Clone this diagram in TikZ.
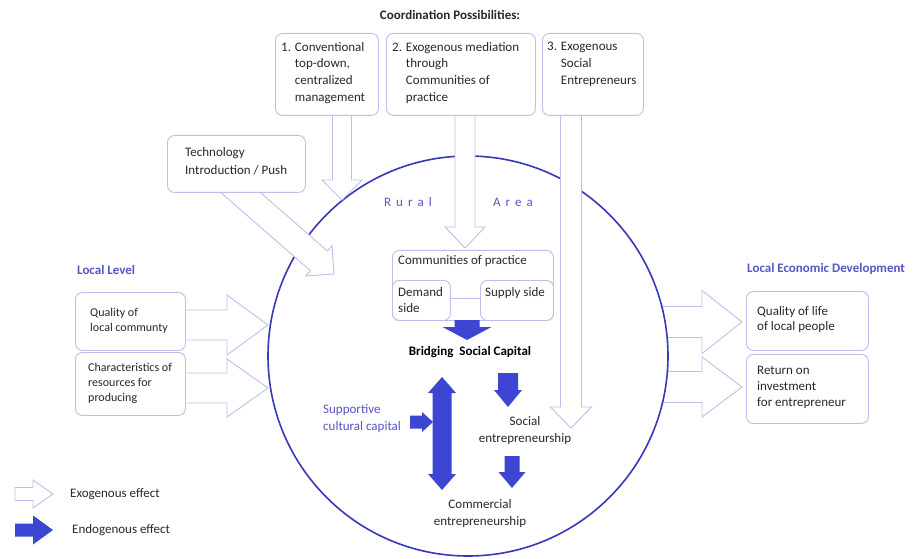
\documentclass[tikz,border=0pt]{standalone}
\usepackage{fontspec}
\setmainfont{Carlito}
\usetikzlibrary{calc}
\definecolor{circblue}{RGB}{55,55,185}
\definecolor{textblue}{RGB}{85,85,200}
\definecolor{endoblue}{RGB}{60,70,210}
\definecolor{lav}{RGB}{190,190,235}
\definecolor{txtgray}{RGB}{40,40,40}
\tikzset{
  exo/.style={draw=lav, line width=0.9pt, fill=white, line join=miter},
  endo/.style={fill=endoblue, draw=none},
  box/.style={draw=lav, line width=0.9pt, rounded corners=7pt, fill=white, inner sep=0pt, anchor=north west},
  txt/.style={inner sep=0pt, align=left, anchor=north west, text=txtgray, font=\fontsize{13}{16.7}\selectfont},
  smalltxt/.style={txt, font=\fontsize{12}{15}\selectfont},
  bluehead/.style={inner sep=0pt, anchor=west, text=textblue, font=\fontsize{13}{16}\selectfont\bfseries},
}
% block arrow: style, from, to, half shaft, half head, head length
\newcommand\blockarrow[6]{%
  \coordinate (ba-h) at ($(#3)!#6!(#2)$);
  \path[#1] ($(#2)!#4!90:(#3)$) -- ($(ba-h)!#4!-90:(#2)$) -- ($(ba-h)!#5!-90:(#2)$) -- (#3)
     -- ($(ba-h)!#5!90:(#2)$) -- ($(ba-h)!#4!90:(#2)$) -- ($(#2)!#4!-90:(#3)$) -- cycle;
}
% double block arrow
\newcommand\dblarrow[6]{%
  \coordinate (da1) at ($(#2)!#6!(#3)$);
  \coordinate (da2) at ($(#3)!#6!(#2)$);
  \path[#1] (#2) -- ($(da1)!#5!90:(#3)$) -- ($(da1)!#4!90:(#3)$) -- ($(da2)!#4!-90:(#2)$)
     -- ($(da2)!#5!-90:(#2)$) -- (#3) -- ($(da2)!#5!90:(#2)$) -- ($(da2)!#4!90:(#2)$)
     -- ($(da1)!#4!-90:(#3)$) -- ($(da1)!#5!-90:(#3)$) -- cycle;
}
\newcommand\ind{\hphantom{1. }}
\newcommand\spreadword[1]{#1}
\begin{document}
\begin{tikzpicture}[x=1pt,y=-1pt]
\useasboundingbox (0,0) rectangle (914,559);

% ---------- side arrows (behind circle) ----------
\coordinate (l1s) at (185,325); \coordinate (l1e) at (268,325);
\coordinate (l2s) at (185,388); \coordinate (l2e) at (268,388);
\blockarrow{exo}{l1s}{l1e}{15pt}{30pt}{41pt}
\blockarrow{exo}{l2s}{l2e}{15pt}{29pt}{41pt}
\coordinate (r1s) at (640,322); \coordinate (r1e) at (742,322);
\coordinate (r2s) at (640,387); \coordinate (r2e) at (742,387);
\blockarrow{exo}{r1s}{r1e}{15.5pt}{31.5pt}{40pt}
\blockarrow{exo}{r2s}{r2e}{15.5pt}{30pt}{40pt}

% ---------- circle ----------
\node[circle, draw=circblue, line width=1.6pt, fill=white, minimum size=400pt, inner sep=0pt] (area) at (468,356) {};

% ---------- top arrows ----------
\coordinate (t0s) at (228.7,182.2); \coordinate (t0e) at (334,274);
\blockarrow{exo}{t0s}{t0e}{13pt}{20pt}{20pt}
\coordinate (a1s) at (342,115); \coordinate (a1e) at (342,200);
\blockarrow{exo}{a1s}{a1e}{9.5pt}{20pt}{20pt}
\coordinate (a2s) at (465,115); \coordinate (a2e) at (465,248);
\blockarrow{exo}{a2s}{a2e}{10pt}{20pt}{21pt}
\coordinate (a3s) at (571,115); \coordinate (a3e) at (571,428);
\blockarrow{exo}{a3s}{a3e}{10.5pt}{20.5pt}{21pt}

% ---------- title ----------
\node[inner sep=0pt, text=txtgray, font=\fontsize{13}{16}\selectfont\bfseries] (title) at (450,15) {Coordination Possibilities:};

% ---------- top boxes ----------
\node[box, minimum width=103pt, minimum height=82pt] (b1) at (275,33) {};
\node[txt] (b1t) at (281,42) {1. Conventional\\\ind top-down,\\\ind centralized\\\ind management};
\node[box, minimum width=149pt, minimum height=82pt] (b2) at (386,33) {};
\node[txt] (b2t) at (392,42) {2. Exogenous mediation\\\ind through\\\ind Communities of\\\ind practice};
\node[box, minimum width=101pt, minimum height=82pt] (b3) at (542,33) {};
\node[txt] (b3t) at (547,42) {3. Exogenous\\\ind Social\\\ind Entrepreneurs};

\node[box, minimum width=138pt, minimum height=57pt] (tech) at (167,135) {};
\node[txt, font=\fontsize{13}{18}\selectfont] (techt) at (185,147) {Technology\\Introduction / Push};

% ---------- left ----------
\node[bluehead] (ll) at (77,270) {Local Level};
\node[box, minimum width=110pt, minimum height=58pt] (q) at (75,292) {};
\node[smalltxt] (qt) at (90,307.5) {Quality of\\local communty};
\node[box, minimum width=110pt, minimum height=63pt] (ch) at (75,352) {};
\node[smalltxt] (cht) at (88,362.5) {Characteristics of\\resources for\\producing};

% ---------- right ----------
\node[bluehead] (led) at (747,269) {Local Economic Development};
\node[box, minimum width=122pt, minimum height=59pt] (ql) at (746,291) {};
\node[txt, font=\fontsize{13}{15.5}\selectfont] (qlt) at (757,306) {Quality of life\\of local people};
\node[box, minimum width=122pt, minimum height=69pt] (ret) at (746,354) {};
\node[txt, font=\fontsize{13}{16}\selectfont] (rett) at (757,366) {Return on\\investment\\for entrepreneur};

% ---------- inside circle ----------
\node[inner sep=0pt, text=textblue, font=\fontsize{13}{16}\selectfont] (rural) at (408,202) {R\kern5pt u\kern5pt r\kern5pt a\kern5pt l};
\node[inner sep=0pt, text=textblue, font=\fontsize{13}{16}\selectfont] (areat) at (513,202) {A\kern5pt r\kern5pt e\kern5pt a};

\node[box, minimum width=161pt, minimum height=70pt] (cop) at (392,250) {};
\node[txt] (copt) at (398,255) {Communities of practice};
\node[box, minimum width=58pt, minimum height=40pt] (dem) at (392,280) {};
\node[txt, font=\fontsize{13}{16}\selectfont] (demt) at (398,287) {Demand\\side};
\node[box, minimum width=73pt, minimum height=40pt] (sup) at (480,280) {};
\node[txt] (supt) at (485,287) {Supply side};
\draw[lav, line width=0.9pt] (dem.east |- 0,298) -- (sup.west |- 0,298);

\coordinate (e1s) at (467,320); \coordinate (e1e) at (467,340);
\blockarrow{endo}{e1s}{e1e}{12.5pt}{24.5pt}{13pt}

\node[inner sep=0pt, text=black, font=\fontsize{13}{16}\selectfont\bfseries] (bsc) at (470,352) {Bridging\ \ Social Capital};

\coordinate (d1) at (442,377); \coordinate (d2) at (442,490);
\dblarrow{endo}{d1}{d2}{9.5pt}{14pt}{16pt}

\node[txt, text=textblue, font=\fontsize{13}{17}\selectfont] (sup2) at (323,404) {Supportive\\cultural capital};
\coordinate (e2s) at (410,422); \coordinate (e2e) at (433,422);
\blockarrow{endo}{e2s}{e2e}{6.5pt}{10pt}{11pt}

\coordinate (e3s) at (508,373); \coordinate (e3e) at (508,407);
\blockarrow{endo}{e3s}{e3e}{10pt}{14pt}{17pt}
\node[inner sep=0pt, align=center, text=txtgray, font=\fontsize{13}{17}\selectfont] (soc) at (525,430.5) {Social\\entrepreneurship};
\coordinate (e4s) at (512,456); \coordinate (e4e) at (512,488);
\blockarrow{endo}{e4s}{e4e}{7.5pt}{13.5pt}{16pt}
\node[inner sep=0pt, align=center, text=txtgray, font=\fontsize{13}{17}\selectfont] (com) at (480,513.5) {Commercial\\entrepreneurship};

% ---------- legend ----------
\coordinate (g1s) at (15,494); \coordinate (g1e) at (53,494);
\blockarrow{exo}{g1s}{g1e}{6.5pt}{14pt}{20pt}
\node[inner sep=0pt, anchor=west, text=txtgray, font=\fontsize{13}{16}\selectfont] (g1t) at (70,494) {Exogenous effect};
\coordinate (g2s) at (15,530); \coordinate (g2e) at (53,530);
\blockarrow{endo}{g2s}{g2e}{6.5pt}{14.5pt}{20pt}
\node[inner sep=0pt, anchor=west, text=txtgray, font=\fontsize{13}{16}\selectfont] (g2t) at (72,530) {Endogenous effect};
\end{tikzpicture}
\end{document}
